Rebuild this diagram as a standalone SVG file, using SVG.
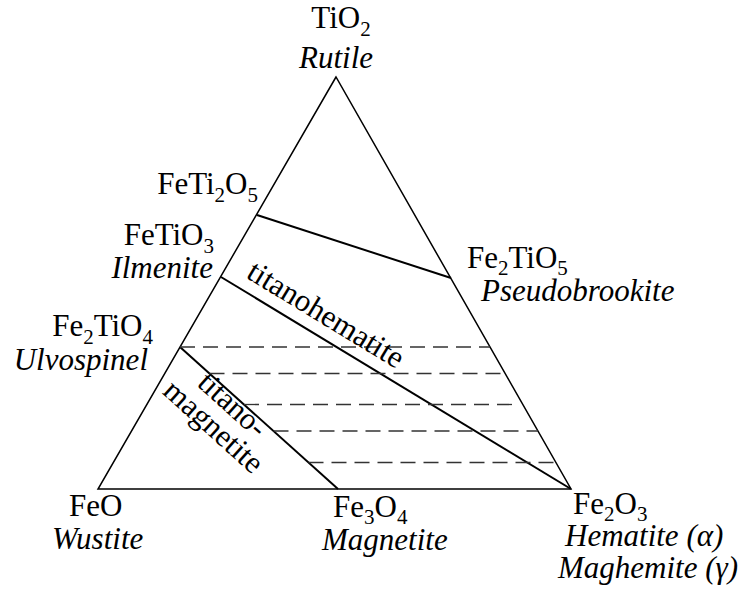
<svg xmlns="http://www.w3.org/2000/svg" width="742" height="589" viewBox="0 0 742 589">
<style>
text{font-family:"Liberation Serif","Times New Roman",serif;font-size:31px;fill:#000}
.it{font-style:italic}
.sub{font-size:21px}
.edge{fill:none;stroke:#000;stroke-width:1.5}
.solid{fill:none;stroke:#000;stroke-width:2}
.dash{fill:none;stroke:#333;stroke-width:1.3;stroke-dasharray:15 8}
</style>
<rect width="742" height="589" fill="#fff"/>
<g id="connectors">
<polygon class="edge" points="336,77 98,489 571,489"/>
<line class="solid" x1="257" y1="215" x2="451" y2="278"/>
<line class="solid" x1="221" y1="277" x2="571" y2="489"/>
<line class="solid" x1="180" y1="347" x2="338" y2="489"/>
<line class="dash" x1="180" y1="347" x2="490" y2="347"/>
<line class="dash" x1="209.5" y1="373.5" x2="503" y2="373.5"/>
<line class="dash" x1="244" y1="404.5" x2="514" y2="404.5"/>
<line class="dash" x1="273.5" y1="431" x2="538" y2="431"/>
<line class="dash" x1="308.5" y1="462.5" x2="556" y2="462.5"/>
</g>
<g id="TiO2">
<text x="341" y="28" text-anchor="middle">TiO<tspan class="sub" dy="8">2</tspan></text>
<text class="it" x="336" y="68" text-anchor="middle">Rutile</text>
</g>
<g id="FeTi2O5">
<text x="258" y="194" text-anchor="end">FeTi<tspan class="sub" dy="8">2</tspan><tspan dy="-8">O</tspan><tspan class="sub" dy="8">5</tspan></text>
</g>
<g id="FeTiO3">
<text x="214" y="245" text-anchor="end">FeTiO<tspan class="sub" dy="8">3</tspan></text>
<text class="it" x="213" y="278" text-anchor="end">Ilmenite</text>
</g>
<g id="Fe2TiO4">
<text x="153" y="336" text-anchor="end">Fe<tspan class="sub" dy="8">2</tspan><tspan dy="-8">TiO</tspan><tspan class="sub" dy="8">4</tspan></text>
<text class="it" x="148" y="370" text-anchor="end">Ulvospinel</text>
</g>
<g id="Fe2TiO5">
<text x="467" y="268">Fe<tspan class="sub" dy="7">2</tspan><tspan dy="-7">TiO</tspan><tspan class="sub" dy="7">5</tspan></text>
<text class="it" x="481" y="301">Pseudobrookite</text>
</g>
<g id="FeO">
<text x="69" y="516">FeO</text>
<text class="it" x="52" y="549">Wustite</text>
</g>
<g id="Fe3O4">
<text x="333" y="517">Fe<tspan class="sub" dy="7">3</tspan><tspan dy="-7">O</tspan><tspan class="sub" dy="7">4</tspan></text>
<text class="it" x="322" y="550">Magnetite</text>
</g>
<g id="Fe2O3">
<text x="573" y="514">Fe<tspan class="sub" dy="7">2</tspan><tspan dy="-7">O</tspan><tspan class="sub" dy="7">3</tspan></text>
<text class="it" x="565" y="546">Hematite (α)</text>
<text class="it" x="558" y="578">Maghemite (γ)</text>
</g>
<g id="titanohematite">
<text x="245" y="277" transform="rotate(31.3 245 277)">titanohematite</text>
</g>
<g id="titanomagnetite">
<text x="226" y="412" text-anchor="middle" transform="rotate(42 226 412)">titano-</text>
<text x="207" y="434" text-anchor="middle" transform="rotate(42 207 434)">magnetite</text>
</g>
</svg>
